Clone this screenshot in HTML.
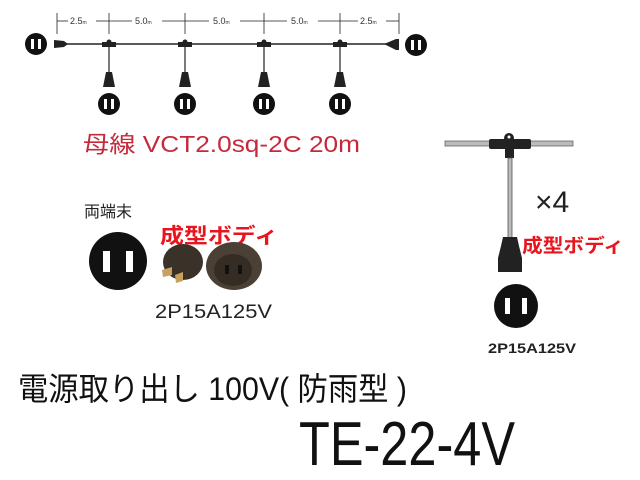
<!DOCTYPE html>
<html><head><meta charset="utf-8"><style>
html,body{margin:0;padding:0;background:#fff;}
svg{display:block;}
text{font-family:"Liberation Sans","Noto Sans CJK JP",sans-serif;}
</style></head><body>
<svg width="640" height="480" viewBox="0 0 640 480" xmlns="http://www.w3.org/2000/svg">
<!-- dimension line -->
<g stroke="#222" stroke-width="0.8" fill="none">
<line x1="57" y1="13" x2="57" y2="34"/><line x1="109" y1="13" x2="109" y2="34"/>
<line x1="185" y1="13" x2="185" y2="34"/><line x1="264" y1="13" x2="264" y2="34"/>
<line x1="340" y1="13" x2="340" y2="34"/><line x1="399" y1="13" x2="399" y2="34"/>
<line x1="57" y1="21" x2="68" y2="21"/><line x1="96" y1="21" x2="109" y2="21"/>
<line x1="109" y1="21" x2="132" y2="21"/><line x1="162" y1="21" x2="185" y2="21"/>
<line x1="185" y1="21" x2="209" y2="21"/><line x1="240" y1="21" x2="264" y2="21"/>
<line x1="264" y1="21" x2="287" y2="21"/><line x1="318" y1="21" x2="340" y2="21"/>
<line x1="340" y1="21" x2="358" y2="21"/><line x1="386" y1="21" x2="399" y2="21"/>
</g>
<g font-size="9" fill="#333">
<text x="70" y="24">2.5<tspan font-size="5">m</tspan></text>
<text x="135" y="24">5.0<tspan font-size="5">m</tspan></text>
<text x="213" y="24">5.0<tspan font-size="5">m</tspan></text>
<text x="291" y="24">5.0<tspan font-size="5">m</tspan></text>
<text x="360" y="24">2.5<tspan font-size="5">m</tspan></text>
</g>
<!-- main cable -->
<line x1="60" y1="44" x2="395" y2="44" stroke="#222" stroke-width="1.5"/>
<path d="M54 40 L64 41 L68 44 L64 47 L54 48 Z" fill="#222"/>
<path d="M384 44 L396 39 L399 39 L399 50 L396 50 Z" fill="#222"/>
<g fill="#111">
<circle cx="36" cy="44" r="11"/><circle cx="416" cy="45" r="11"/>
<circle cx="109" cy="104" r="11"/><circle cx="185" cy="104" r="11"/>
<circle cx="264" cy="104" r="11"/><circle cx="340" cy="104" r="11"/>
</g>
<g fill="#fff">
<rect x="31" y="39" width="3" height="10"/><rect x="38" y="39" width="3" height="10"/>
<rect x="411" y="40" width="3" height="10"/><rect x="418" y="40" width="3" height="10"/>
<rect x="104" y="99" width="3" height="10"/><rect x="111" y="99" width="3" height="10"/>
<rect x="180" y="99" width="3" height="10"/><rect x="187" y="99" width="3" height="10"/>
<rect x="259" y="99" width="3" height="10"/><rect x="266" y="99" width="3" height="10"/>
<rect x="335" y="99" width="3" height="10"/><rect x="342" y="99" width="3" height="10"/>
</g>
<g fill="#222" stroke="#222">
<g><rect x="102" y="42" width="14" height="5" stroke="none"/><circle cx="109" cy="42" r="2.5" stroke="none"/><line x1="109" y1="47" x2="109" y2="72" stroke-width="1.2"/><path d="M106 72 L112 72 L115 87 L103 87 Z" stroke="none"/></g>
<g><rect x="178" y="42" width="14" height="5" stroke="none"/><circle cx="185" cy="42" r="2.5" stroke="none"/><line x1="185" y1="47" x2="185" y2="72" stroke-width="1.2"/><path d="M182 72 L188 72 L191 87 L179 87 Z" stroke="none"/></g>
<g><rect x="257" y="42" width="14" height="5" stroke="none"/><circle cx="264" cy="42" r="2.5" stroke="none"/><line x1="264" y1="47" x2="264" y2="72" stroke-width="1.2"/><path d="M261 72 L267 72 L270 87 L258 87 Z" stroke="none"/></g>
<g><rect x="333" y="42" width="14" height="5" stroke="none"/><circle cx="340" cy="42" r="2.5" stroke="none"/><line x1="340" y1="47" x2="340" y2="72" stroke-width="1.2"/><path d="M337 72 L343 72 L346 87 L334 87 Z" stroke="none"/></g>
</g>
<text x="83" y="152" font-size="23" fill="#c42a3c" textLength="277" lengthAdjust="spacingAndGlyphs">母線 VCT2.0sq-2C 20m</text>
<!-- left group -->
<text x="84" y="217" font-size="16" fill="#222">両端末</text>
<circle cx="118" cy="261" r="29" fill="#111"/>
<rect x="103" y="251" width="7" height="21" fill="#fff"/><rect x="126" y="251" width="7" height="21" fill="#fff"/>
<text x="160" y="243" font-size="21" font-weight="bold" fill="#e8141e" textLength="118" lengthAdjust="spacingAndGlyphs">成型ボディ</text>
<ellipse cx="183" cy="262" rx="20" ry="18" fill="#3a3128"/>
<path d="M162 270 L172 267 L172 275 L163 277 Z M175 275 L183 272 L183 281 L176 283 Z" fill="#c8a060"/>
<ellipse cx="234" cy="266" rx="28" ry="24" fill="#4a4036"/>
<ellipse cx="233" cy="270" rx="19" ry="16" fill="#352c24"/>
<rect x="225" y="265" width="4" height="9" fill="#111"/><rect x="238" y="265" width="4" height="9" fill="#111"/>
<text x="155" y="318" font-size="19" fill="#222" textLength="117" lengthAdjust="spacingAndGlyphs">2P15A125V</text>
<!-- right group -->
<rect x="445" y="141" width="128" height="5" fill="#bbb" stroke="#666" stroke-width="0.8"/>
<rect x="489" y="139" width="42" height="10" rx="2" fill="#222"/>
<circle cx="509" cy="138" r="5" fill="#222"/><circle cx="509" cy="137" r="1.5" fill="#fff"/>
<rect x="505" y="148" width="9" height="10" fill="#222"/>
<rect x="508" y="158" width="4" height="80" fill="#bbb" stroke="#555" stroke-width="0.8"/>
<path d="M503 237 L517 237 L519 246 L522 258 L522 272 L498 272 L498 258 L501 246 Z" fill="#222"/>
<text x="535" y="212" font-size="30" fill="#222">×4</text>
<text x="522" y="252" font-size="19" font-weight="bold" fill="#e8141e" textLength="102" lengthAdjust="spacingAndGlyphs">成型ボディ</text>
<circle cx="516" cy="306" r="22" fill="#111"/>
<rect x="505" y="298" width="5" height="16" fill="#fff"/><rect x="522" y="298" width="5" height="16" fill="#fff"/>
<text x="488" y="353" font-size="14" font-weight="bold" fill="#222" textLength="88" lengthAdjust="spacingAndGlyphs">2P15A125V</text>
<!-- bottom titles -->
<text x="18" y="400" font-size="32" fill="#111" textLength="389" lengthAdjust="spacingAndGlyphs">電源取り出し 100V( 防雨型 )</text>
<text x="299" y="465" font-size="62" fill="#111" textLength="216" lengthAdjust="spacingAndGlyphs">TE-22-4V</text>
</svg>
</body></html>
